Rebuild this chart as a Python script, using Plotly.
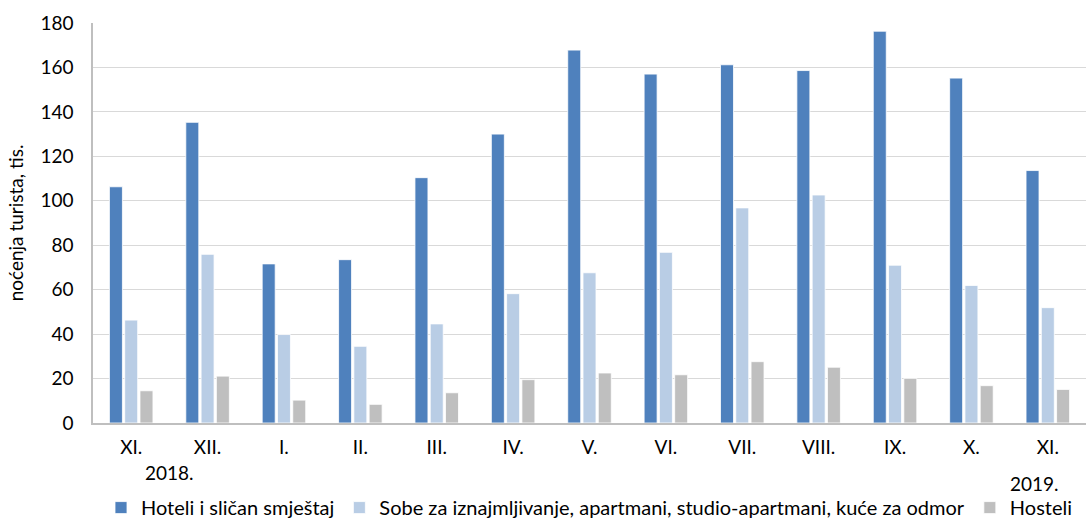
import plotly.graph_objects as go

months = ["XI.", "XII.", "I.", "II.", "III.", "IV.", "V.", "VI.", "VII.", "VIII.", "IX.", "X.", "XI."]
hoteli = [106.3, 135.3, 71.6, 73.5, 110.4, 130.0, 167.8, 157.0, 161.2, 158.6, 176.3, 155.2, 113.6]
sobe = [46.3, 75.9, 39.8, 34.5, 44.6, 58.2, 67.6, 76.8, 96.8, 102.6, 71.0, 61.9, 51.9]
hosteli = [14.5, 21.1, 10.3, 8.4, 13.6, 19.5, 22.5, 21.7, 27.6, 25.1, 20.1, 16.8, 15.1]
year_labels = ["2018.", "2019."]
y_ticks = [0, 20, 40, 60, 80, 100, 120, 140, 160, 180]

names = ["Hoteli i sličan smještaj",
         "Sobe za iznajmljivanje, apartmani, studio-apartmani, kuće za odmor",
         "Hosteli"]
colors = ["#4F81BD", "#B9CDE5", "#BFBFBF"]

xpos = list(range(len(months)))
font_family = "Lato, Carlito, sans-serif"
FS = 19

fig = go.Figure()
for name, vals, col in zip(names, [hoteli, sobe, hosteli], colors):
    fig.add_trace(go.Bar(x=xpos, y=vals, name=name, marker_color=col,
                         marker_line=dict(color="white", width=0.8)))

fig.update_layout(
    width=1087, height=519, autosize=False,
    margin=dict(l=93, r=1, t=23, b=96, autoexpand=False),
    plot_bgcolor="white", paper_bgcolor="white",
    barmode="group", bargap=0.4, bargroupgap=0.15,
    font=dict(family=font_family, size=FS, color="#000000"),
    showlegend=True,
    legend=dict(orientation="h", x=0.5, xanchor="center", y=0.022, yanchor="middle",
                yref="container", font=dict(size=20), itemwidth=30,
                traceorder="normal", tracegroupgap=0),
    xaxis=dict(tickmode="array", tickvals=xpos, ticktext=months,
               range=[-0.5, len(months) - 0.5], showgrid=False,
               showline=True, linecolor="#BFBFBF", linewidth=1.5,
               ticks="", tickfont=dict(size=FS), automargin=False,
               ticklabelstandoff=6),
    yaxis=dict(range=[0, 180], tickvals=y_ticks, showgrid=True,
               gridcolor="#D9D9D9", gridwidth=1.3, zeroline=False,
               showline=True, linecolor="#BFBFBF", linewidth=1.5,
               ticks="", tickfont=dict(size=FS), automargin=False,
               ticklabelstandoff=14,
               title=dict(text="noćenja turista, tis.", font=dict(size=FS), standoff=12)),
)

fig.add_annotation(text=year_labels[0], x=0.5, y=0, xref="x", yref="paper",
                   showarrow=False, xanchor="center", yanchor="middle", yshift=-49,
                   font=dict(size=FS))
fig.add_annotation(text=year_labels[1], x=11.83, y=0, xref="x", yref="paper",
                   showarrow=False, xanchor="center", yanchor="middle", yshift=-60,
                   font=dict(size=FS))

fig.write_html("out.html", config={"displayModeBar": False},
               post_script="document.body.style.margin='0';")
